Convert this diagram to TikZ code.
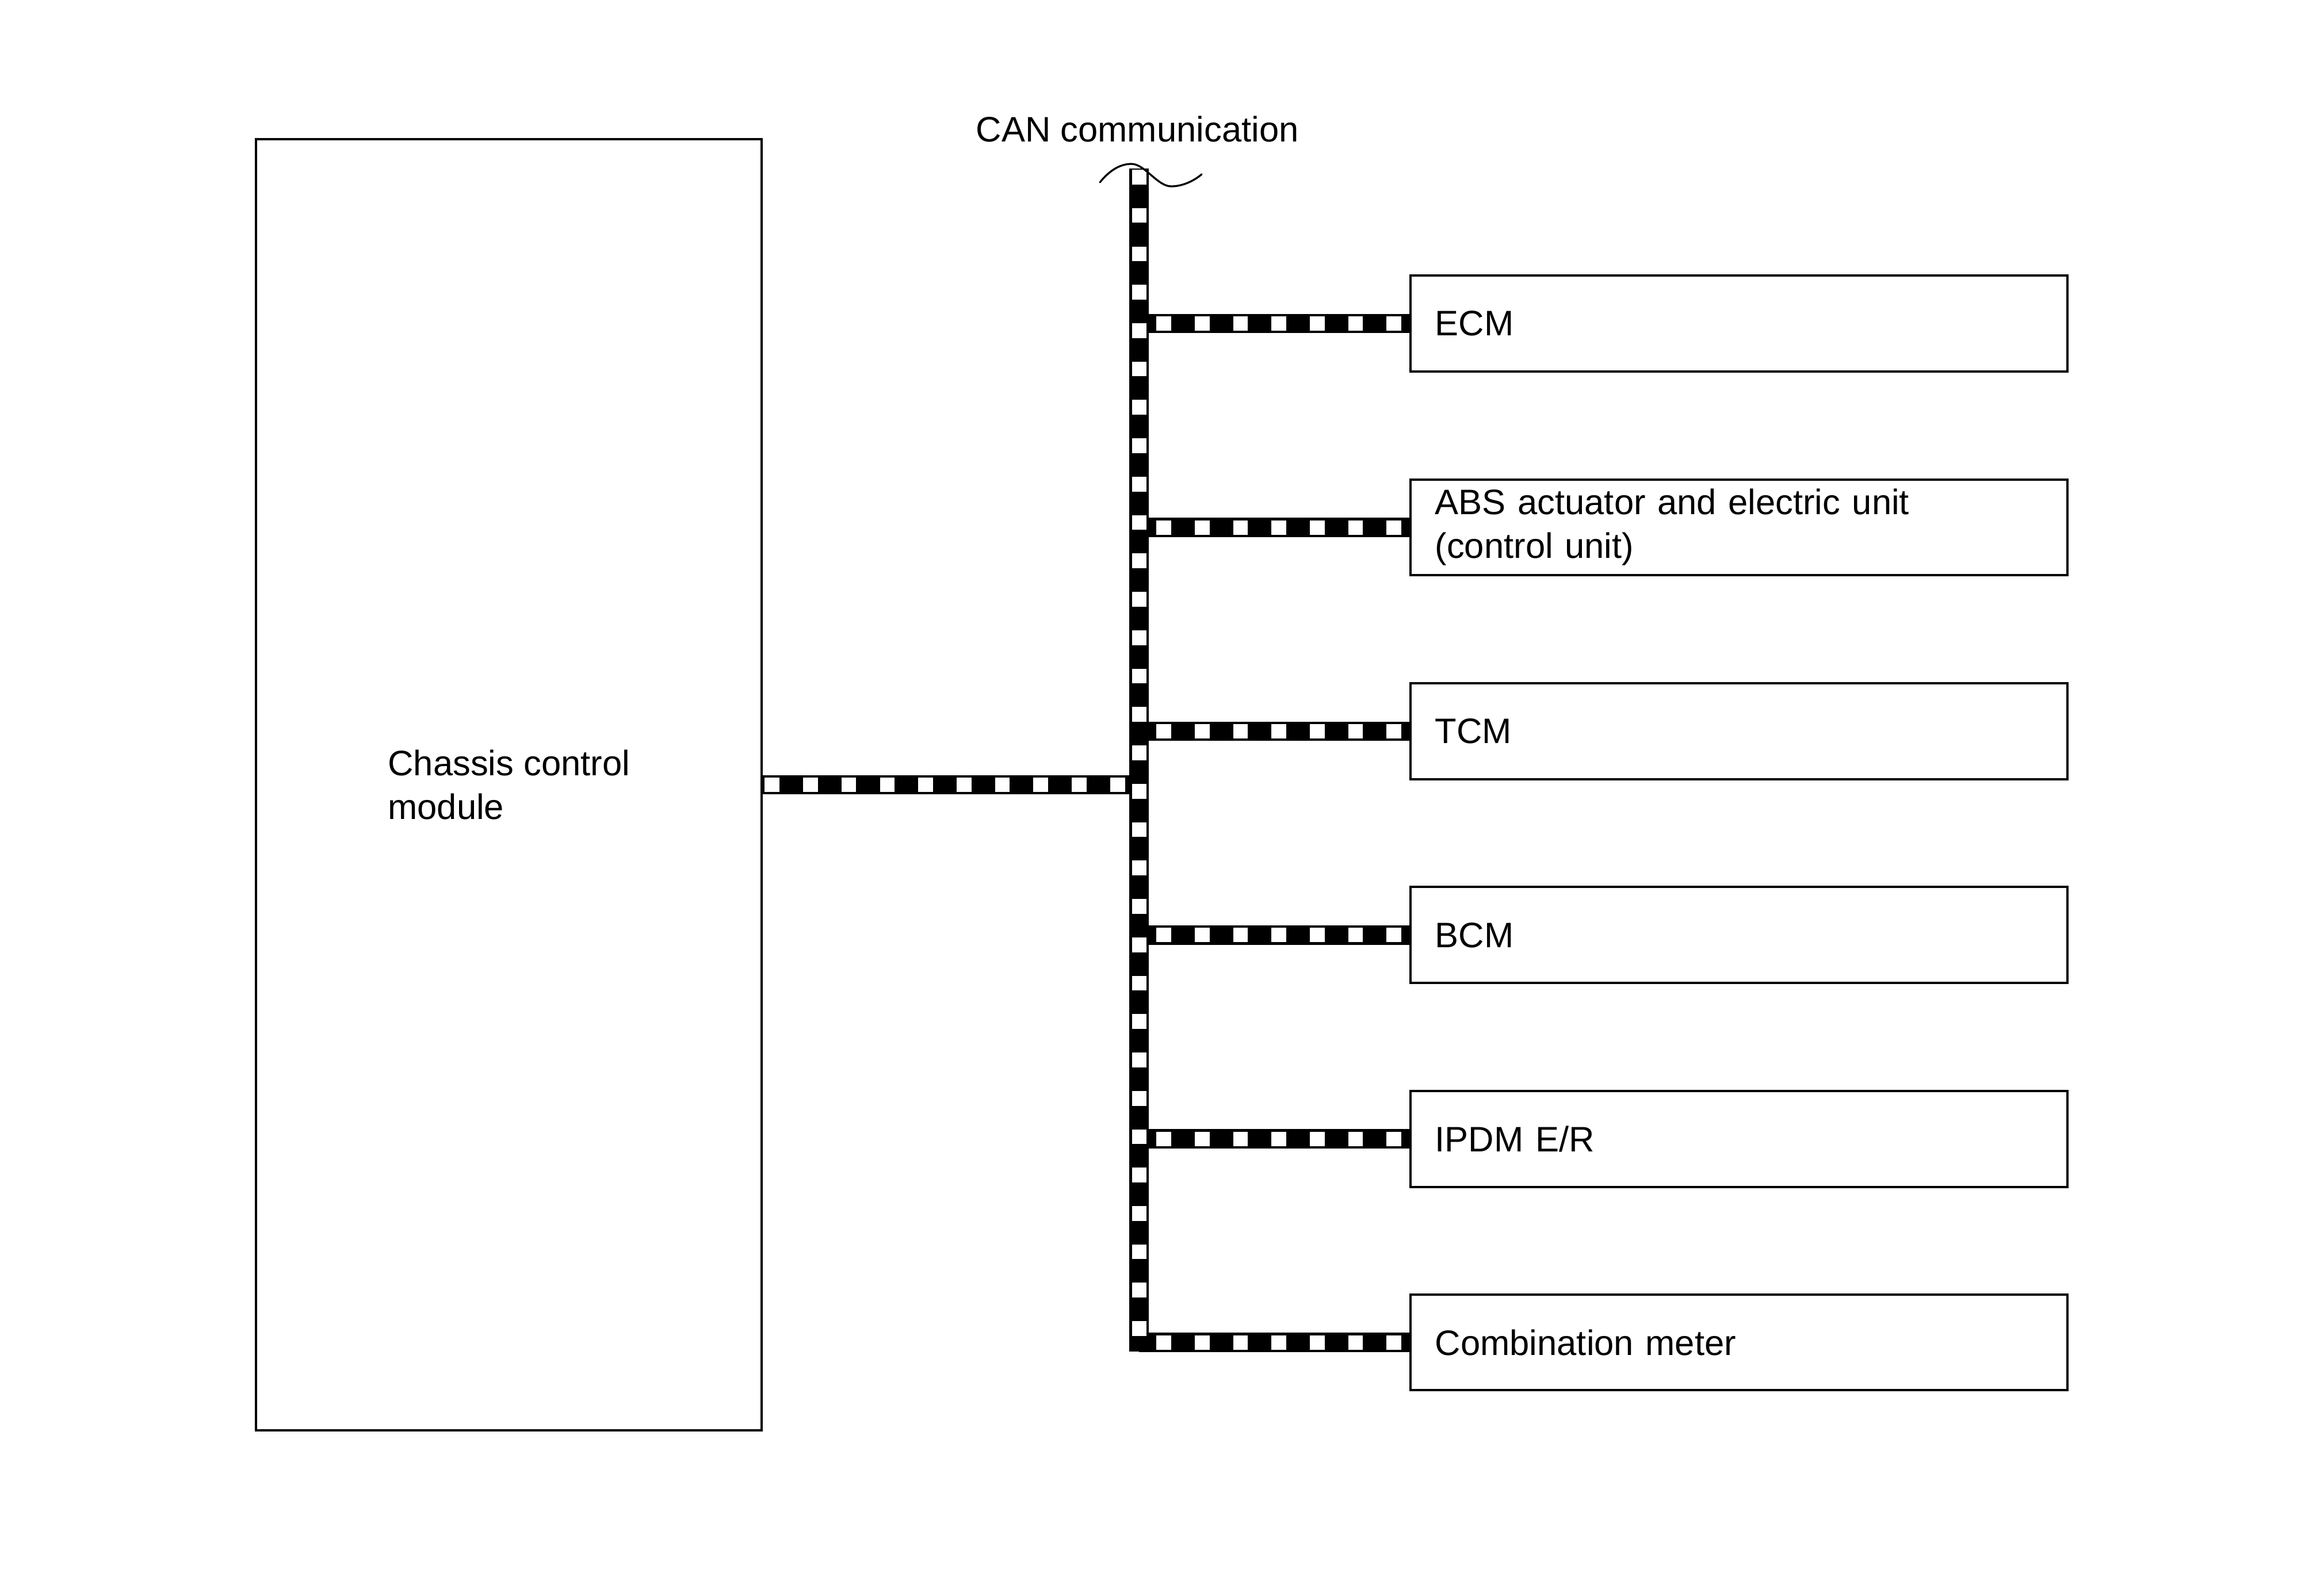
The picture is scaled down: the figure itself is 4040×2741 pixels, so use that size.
\documentclass[tikz,border=0pt]{standalone}
\usepackage{fontspec}
\setmainfont{Liberation Sans}
\begin{document}
\begin{tikzpicture}[x=0.01cm,y=-0.01cm,
  txt/.style={font=\fontsize{17.5pt}{21.6pt}\selectfont},
  unitbox/.style={draw, black, line width=0.04cm, txt, minimum width=11.417cm,
    minimum height=1.667cm, text width=10.557cm, inner xsep=0.43cm, inner ysep=0pt,
    outer sep=0pt, align=left},
  bigbox/.style={draw, black, line width=0.04cm, txt, minimum width=8.785cm,
    minimum height=22.428cm, inner sep=0pt, outer sep=0pt, align=left},
  busblack/.style={black, line width=0.335cm, line cap=butt},
  buswhite/.style={white, line width=0.25cm, line cap=butt,
    dash pattern=on 0.257cm off 0.41cm},
  wave/.style={black, line width=0.033cm, line cap=round}
]
\useasboundingbox (0,0) rectangle (4040,2741);
\fill[white] (0,0) rectangle (4040,2741);

% boxes
\node[bigbox] (ccm) at (884.75,1364.4) {Chassis control\\module};
\node[unitbox] (ecm)  at (3022.85,562.6)  {ECM};
\node[unitbox] (abs)  at (3022.85,917.0)  {ABS actuator and electric unit\\(control unit)};
\node[unitbox] (tcm)  at (3022.85,1271.4) {TCM};
\node[unitbox] (bcm)  at (3022.85,1625.8) {BCM};
\node[unitbox] (ipdm) at (3022.85,1980.2) {IPDM E/R};
\node[unitbox] (comb) at (3022.85,2334.0) {Combination meter};

% label
\node[txt, anchor=base west, inner sep=0pt] (canlabel) at (1696,246) {CAN communication};

% bus coordinates
\coordinate (bustop) at (1980,293);
\coordinate (busbot) at (1980,2350);
\coordinate (jc) at (1980,1364.4);
\foreach \n in {ecm,abs,tcm,bcm,ipdm,comb}{
  \coordinate (j\n) at (bustop |- \n.west);
}

% branches
\foreach \n in {ecm,abs,tcm,bcm,ipdm,comb}{
  \draw[busblack] (j\n) -- (\n.west);
  \draw[buswhite, dash phase=0.367cm] (j\n) -- (\n.west);
}
\draw[busblack] (ccm.east) -- (jc);
\draw[buswhite, dash phase=0.617cm] (ccm.east) -- (jc);

% vertical bus
\draw[busblack] (bustop) -- (busbot);
\draw[buswhite, dash phase=0.647cm] (bustop) -- (busbot);

% wave mark
\coordinate (wa) at (1912,317);
\coordinate (wp) at (1967,285);
\coordinate (wt) at (2036,324);
\coordinate (we) at (2089,303);
\draw[wave] (wa) .. controls (1930,295) and (1948,285) .. (wp)
  .. controls (1990,285) and (2012,324) .. (wt)
  .. controls (2055,324) and (2075,315) .. (we);
\end{tikzpicture}
\end{document}
